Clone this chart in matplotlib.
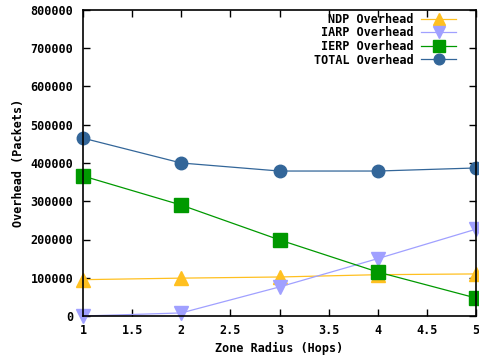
import matplotlib
matplotlib.use("Agg")
import matplotlib.pyplot as plt

# Overhead per zone radius
zone_radius = [1, 2, 3, 4, 5]
ndp_overhead = [95000, 99000, 102000, 108000, 110000]
iarp_overhead = [0, 8000, 76000, 150000, 227000]
ierp_overhead = [366000, 290000, 199000, 115000, 47000]
total_overhead = [465000, 400000, 379000, 379000, 387000]

x_ticks = [1, 1.5, 2, 2.5, 3, 3.5, 4, 4.5, 5]
y_ticks = list(range(0, 800001, 100000))

plt.rcParams["font.family"] = "DejaVu Sans Mono"
plt.rcParams["font.weight"] = "bold"
plt.rcParams["font.size"] = 8.5

fig = plt.figure(figsize=(4.79, 3.58), dpi=100)
ax = fig.add_axes([83 / 479, 1 - 316 / 358, 393 / 479, 306 / 358])

series = [
    ("NDP Overhead", ndp_overhead, "#ffc020", "^"),
    ("IARP Overhead", iarp_overhead, "#a0a0ff", "v"),
    ("IERP Overhead", ierp_overhead, "#009900", "s"),
    ("TOTAL Overhead", total_overhead, "#336699", "o"),
]
for label, vals, color, marker in series:
    ax.plot(zone_radius, vals, color=color, linewidth=0.9, marker=marker,
            markersize=10 if marker != "o" else 9, label=label, clip_on=False)

ax.set_xlim(1, 5)
ax.set_ylim(0, 800000)
ax.set_xticks(x_ticks)
ax.set_xticklabels([f"{t:g}" for t in x_ticks])
ax.set_yticks(y_ticks)
ax.tick_params(direction="in", top=True, right=True, length=5, width=1)
ax.tick_params(axis="x", pad=6)
ax.tick_params(axis="y", pad=7)
for s in ax.spines.values():
    s.set_linewidth(1.2)

ax.set_xlabel("Zone Radius (Hops)", fontweight="bold", labelpad=3)
ax.set_ylabel("Overhead (Packets)", fontweight="bold", labelpad=4)

ax.legend(loc="upper right", frameon=False, markerfirst=False,
          handlelength=3.0, labelspacing=0.05, borderaxespad=0.1,
          handletextpad=0.6, bbox_to_anchor=(0.965, 1.01), markerscale=0.85)

fig.savefig("out.png", dpi=100)
